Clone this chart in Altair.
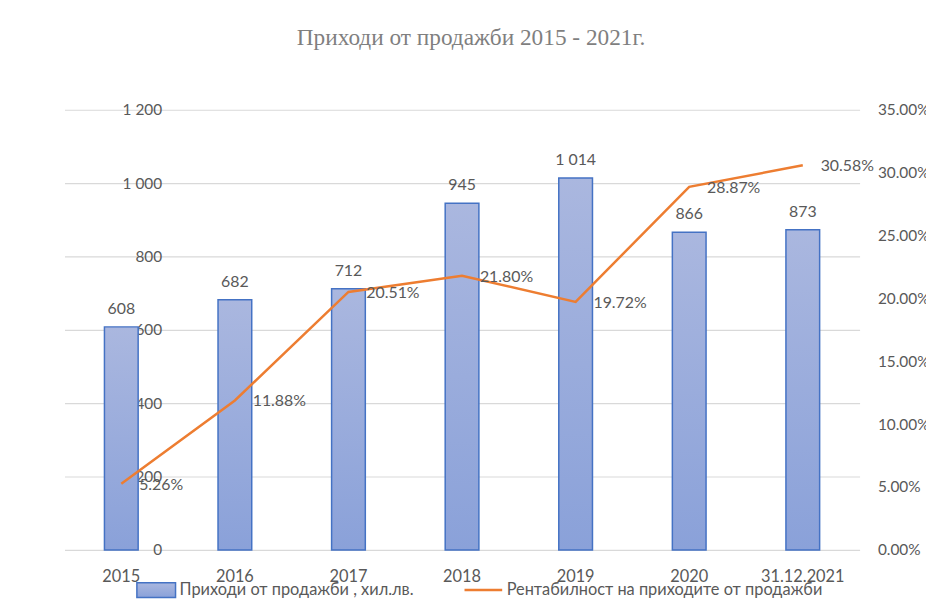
import altair as alt
import pandas as pd

categories = ["2015", "2016", "2017", "2018", "2019", "2020", "31.12.2021"]
revenue = [608, 682, 712, 945, 1014, 866, 873]
profitability = [0.0526, 0.1188, 0.2051, 0.2180, 0.1972, 0.2887, 0.3058]
left_ticks = [0, 200, 400, 600, 800, 1000, 1200]
right_ticks = [0, 0.05, 0.10, 0.15, 0.20, 0.25, 0.30, 0.35]

bar_name = "Приходи от продажби , хил.лв."
line_name = "Рентабилност на приходите от продажби"
title_text = "Приходи от продажби 2015 - 2021г."

df = pd.DataFrame({
    "cat": categories,
    "rev": revenue,
    "prof": profitability,
    "s_bar": [bar_name] * len(categories),
    "s_line": [line_name] * len(categories),
})

FONT = "Lato"
GRAY = "#595959"

x_enc = alt.X(
    "cat:N", sort=None, title=None,
    scale=alt.Scale(paddingInner=0, paddingOuter=0),
    axis=alt.Axis(domain=False, ticks=False, labelPadding=19, labelAngle=0,
                  labelFont=FONT, labelFontSize=16.5, labelColor=GRAY),
)

y_left = alt.Y(
    "rev:Q", title=None,
    scale=alt.Scale(domain=[0, 1200], nice=False),
    axis=alt.Axis(values=left_ticks, domain=False, ticks=False, tickSize=0,
                  grid=True, gridColor="#d9d9d9", gridWidth=1.2,
                  labelAlign="right", labelBaseline="middle", labelPadding=-98,
                  labelExpr="replace(format(datum.value, ','), ',', ' ')",
                  labelFont=FONT, labelFontSize=15.5, labelColor=GRAY, orient="left"),
)

y_right = alt.Y(
    "prof:Q", title=None,
    scale=alt.Scale(domain=[0, 0.35], nice=False),
    axis=alt.Axis(values=right_ticks, domain=False, ticks=False, tickSize=0, grid=False,
                  format=".2%", labelAlign="left", labelBaseline="middle", labelPadding=18,
                  labelFont=FONT, labelFontSize=15.5, labelColor=GRAY, orient="right"),
)

base = alt.Chart(df)

bars = base.mark_bar(
    width=34,
    fill=alt.Gradient(
        gradient="linear",
        stops=[alt.GradientStop(color="#aab7df", offset=0),
               alt.GradientStop(color="#8aa1d9", offset=1)],
        x1=0, x2=0, y1=0, y2=1,
    ),
    strokeWidth=1.5,
).encode(
    x=x_enc,
    y=y_left,
    stroke=alt.Stroke(
        "s_bar:N", title=None,
        scale=alt.Scale(domain=[bar_name], range=["#4472c4"]),
        legend=alt.Legend(
            orient="none", legendX=72, legendY=464, title=None,
            symbolType="M-1,-0.38H1V0.38H-1Z", symbolSize=1521,
            symbolFillColor="#9aabdc", symbolStrokeWidth=1.5,
            labelFont=FONT, labelFontSize=16.5, labelColor=GRAY, labelLimit=400,
            labelOffset=3,
        ),
    ),
)

bar_text = base.mark_text(
    baseline="bottom", dy=-10, font=FONT, fontSize=16, color=GRAY
).encode(
    x=x_enc, y=y_left,
    text=alt.Text("rev_label:N"),
).transform_calculate(rev_label="replace(format(datum.rev, ','), ',', ' ')")

line = base.mark_line(strokeWidth=2.5).encode(
    x=x_enc,
    y=y_right,
    color=alt.Color(
        "s_line:N", title=None,
        scale=alt.Scale(domain=[line_name], range=["#ed7d31"]),
        legend=alt.Legend(
            orient="none", legendX=402, legendY=464, title=None,
            symbolType="stroke", symbolSize=1444, symbolStrokeWidth=2.5,
            labelFont=FONT, labelFontSize=16.5, labelColor=GRAY, labelLimit=400,
            labelOffset=3,
        ),
    ),
)

line_text = base.mark_text(
    align="left", baseline="middle", dx=18, dy=1, font=FONT, fontSize=16, color=GRAY
).encode(x=x_enc, y=y_right, text=alt.Text("prof:Q", format=".2%"))

left_layer = alt.layer(bars, bar_text)
right_layer = alt.layer(line, line_text)

chart = alt.layer(left_layer, right_layer).resolve_scale(
    y="independent", color="independent", stroke="independent"
).properties(
    width=802,
    height=444,
    autosize=alt.AutoSizeParams(type="none"),
    padding={"left": 57, "top": 100, "right": 67, "bottom": 56},
    title=alt.TitleParams(
        title_text, font="Liberation Serif", fontSize=23.5, color="#7f7f7f",
        fontWeight="normal", anchor="middle", frame="group", offset=54, dx=9,
    ),
).configure_view(stroke=None)

chart.save("out.html", embed_options={"renderer": "svg", "actions": False})
